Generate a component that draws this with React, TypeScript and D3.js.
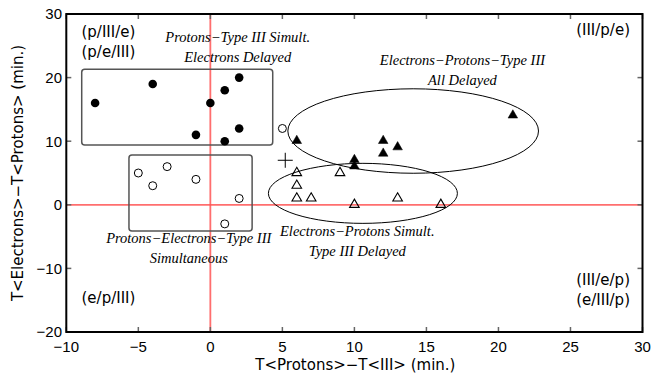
import React from "react";
import * as d3 from "d3";

// ---- data ----
const filledCirclesX = [-8, -4, 0, 1, 2, -1, 1, 2];
const filledCirclesY = [16, 19, 16, 18, 20, 11, 10, 12];
const openCirclesX = [5, -5, -4, -3, -1, 2, 1];
const openCirclesY = [12, 5, 3, 6, 4, 1, -3];
const filledTrianglesX = [6, 12, 12, 13, 10, 10, 21];
const filledTrianglesY = [10, 10, 8, 9, 7, 6, 14];
const openTrianglesX = [6, 6, 6, 7, 9, 10, 13, 16];
const openTrianglesY = [5, 3, 1, 1, 5, 0, 1, 0];
const plusPoint = [5.2, 7];
const xTicks = [-10, -5, 0, 5, 10, 15, 20, 25, 30];
const yTicks = [-20, -10, 0, 10, 20, 30];
const xDomain = [-10, 30];
const yDomain = [-20, 30];
const xTitle = "T<Protons>\u2212T<III>  (min.)";
const yTitle = "T<Electrons>\u2212T<Protons>  (min.)";

// group regions in data units
const boxes = [
  { x0: -8.93, x1: 4.33, y0: 9.4, y1: 21.3 },
  { x0: -5.65, x1: 2.9, y0: -4.1, y1: 7.83 },
];
const ellipses = [
  { cx: 14.08, cy: 11.6, rx: 8.7, ry: 6.64 },
  { cx: 10.59, cy: 1.8, rx: 6.56, ry: 4.72 },
];
const groupLabels = [
  { x: 1.9, y: 25.6, lines: ["Protons\u2212Type III Simult.", "Electrons Delayed"] },
  { x: 17.5, y: 22.0, lines: ["Electrons\u2212Protons\u2212Type III", "All Delayed"] },
  { x: -1.5, y: -5.95, lines: ["Protons\u2212Electrons\u2212Type III", "Simultaneous"] },
  { x: 10.2, y: -4.9, lines: ["Electrons\u2212Protons Simult.", "Type III Delayed"] },
];
const cornerLabels = [
  { lines: ["(p/III/e)", "(p/e/III)"], anchor: "start", corner: "tl" },
  { lines: ["(III/p/e)"], anchor: "end", corner: "tr" },
  { lines: ["(III/e/p)", "(e/III/p)"], anchor: "end", corner: "br" },
  { lines: ["(e/p/III)"], anchor: "start", corner: "bl" },
];

export default function App() {
  const W = 653, H = 376;
  const L = 66.3, R = 642.5, T = 14, B = 332;
  const x = d3.scaleLinear().domain(xDomain).range([L, R]);
  const y = d3.scaleLinear().domain(yDomain).range([B, T]);
  const sans = "'Liberation Sans', Arial, sans-serif";
  const gothic = "'DejaVu Sans', sans-serif";
  const serifIt = "'Liberation Serif', serif";
  const fmt = (v: number) => (v < 0 ? "\u2212" + Math.abs(v) : String(v));
  const tri = (cx: number, cy: number) =>
    `M${cx},${cy - 4.5}L${cx + 4.8},${cy + 3.8}L${cx - 4.8},${cy + 3.8}Z`;
  const red = "#ff5555";

  return (
    <svg width={W} height={H} style={{ position: "absolute", left: 0, top: 0, background: "#fff" }}>
      {/* reference lines */}
      <line x1={x(0)} x2={x(0)} y1={T} y2={B} stroke={red} strokeWidth={1.8} opacity={0.85} />
      <line x1={L} x2={R} y1={y(0)} y2={y(0)} stroke={red} strokeWidth={1.8} opacity={0.85} />

      {/* ticks */}
      {xTicks.map((t) => (
        <g key={"xt" + t}>
          <line x1={x(t)} x2={x(t)} y1={B} y2={B - 5} stroke="#666" strokeWidth={1.5} />
          <line x1={x(t)} x2={x(t)} y1={T} y2={T + 5} stroke="#666" strokeWidth={1.5} />
          <text x={x(t)} y={351.5} textAnchor="middle" fontFamily={sans} fontSize={15} fill="#000">
            {fmt(t)}
          </text>
        </g>
      ))}
      {yTicks.map((t) => (
        <g key={"yt" + t}>
          <line x1={L} x2={L + 5} y1={y(t)} y2={y(t)} stroke="#666" strokeWidth={1.5} />
          <line x1={R} x2={R - 5} y1={y(t)} y2={y(t)} stroke="#666" strokeWidth={1.5} />
          <text x={62} y={y(t)} dy="0.36em" textAnchor="end" fontFamily={sans} fontSize={15} fill="#000">
            {fmt(t)}
          </text>
        </g>
      ))}

      {/* frame */}
      <rect x={L} y={T} width={R - L} height={B - T} fill="none" stroke="#000" strokeWidth={2} />

      {/* axis titles */}
      <text x={(L + R) / 2 + 1} y={370} textAnchor="middle" fontFamily={gothic} fontSize={15} fill="#000">
        {xTitle}
      </text>
      <text
        transform={`translate(23,${(T + B) / 2}) rotate(-90)`}
        textAnchor="middle"
        fontFamily={gothic}
        fontSize={15}
        fill="#000"
      >
        {yTitle}
      </text>

      {/* boxes */}
      {boxes.map((b, i) => (
        <rect
          key={"b" + i}
          x={x(b.x0)}
          y={y(b.y1)}
          width={x(b.x1) - x(b.x0)}
          height={y(b.y0) - y(b.y1)}
          rx={3}
          fill="none"
          stroke="#555"
          strokeWidth={1.5}
        />
      ))}

      {/* ellipses */}
      {ellipses.map((e, i) => (
        <ellipse
          key={"e" + i}
          cx={x(e.cx)}
          cy={y(e.cy)}
          rx={x(e.cx + e.rx) - x(e.cx)}
          ry={y(e.cy) - y(e.cy + e.ry)}
          fill="none"
          stroke="#000"
          strokeWidth={1}
        />
      ))}

      {/* markers */}
      {filledCirclesX.map((v, i) => (
        <circle key={"fc" + i} cx={x(v)} cy={y(filledCirclesY[i])} r={4.3} fill="#000" />
      ))}
      {openCirclesX.map((v, i) => (
        <circle key={"oc" + i} cx={x(v)} cy={y(openCirclesY[i])} r={4} fill="none" stroke="#000" strokeWidth={1} />
      ))}
      {filledTrianglesX.map((v, i) => (
        <path key={"ft" + i} d={tri(x(v), y(filledTrianglesY[i]) - 1.5)} fill="#000" stroke="#000" strokeWidth={0.5} />
      ))}
      {openTrianglesX.map((v, i) => (
        <path key={"ot" + i} d={tri(x(v), y(openTrianglesY[i]) - 1.2)} fill="none" stroke="#000" strokeWidth={1.1} />
      ))}
      <g stroke="#000" strokeWidth={1}>
        <line x1={x(plusPoint[0]) - 7.5} x2={x(plusPoint[0]) + 7.5} y1={y(plusPoint[1])} y2={y(plusPoint[1])} />
        <line x1={x(plusPoint[0])} x2={x(plusPoint[0])} y1={y(plusPoint[1]) - 7.5} y2={y(plusPoint[1]) + 7.5} />
      </g>

      {/* group labels */}
      {groupLabels.map((g, i) => (
        <text
          key={"gl" + i}
          x={x(g.x)}
          y={y(g.y)}
          textAnchor="middle"
          fontFamily={serifIt}
          fontStyle="italic"
          fontSize={14.5}
          fill="#000"
        >
          {g.lines.map((ln, j) => (
            <tspan key={j} x={x(g.x)} dy={j === 0 ? 0 : 20.5}>
              {ln}
            </tspan>
          ))}
        </text>
      ))}

      {/* corner labels */}
      {cornerLabels.map((c, i) => {
        const tx = c.anchor === "start" ? 81.5 : 630;
        const ty = c.corner === "tl" ? 37 : c.corner === "tr" ? 35 : c.corner === "br" ? 285 : 303;
        return (
          <text key={"cl" + i} x={tx} y={ty} textAnchor={c.anchor as any} fontFamily={gothic} fontSize={15} fill="#000">
            {c.lines.map((ln, j) => (
              <tspan key={j} x={tx} dy={j === 0 ? 0 : 19.5}>
                {ln}
              </tspan>
            ))}
          </text>
        );
      })}
    </svg>
  );
}
